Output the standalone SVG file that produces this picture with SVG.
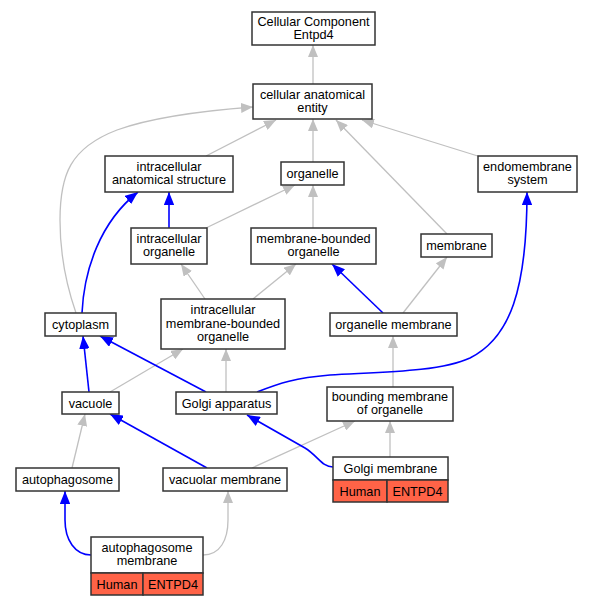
<svg xmlns="http://www.w3.org/2000/svg" width="593" height="605" viewBox="0 0 593 605">
<defs>
<style>
.n rect{fill:#fff;stroke:#333;stroke-width:1.5}
.n rect.h{fill:#ff6347}
text{font-family:"Liberation Sans",Arial,sans-serif;font-size:12.7px;fill:#000;text-anchor:middle}
.g{fill:none;stroke:#c0c0c0;stroke-width:1.3;marker-end:url(#ag)}
.b{fill:none;stroke:#0000ff;stroke-width:1.6;marker-end:url(#ab)}
</style>
<marker id="ag" markerUnits="userSpaceOnUse" markerWidth="12" markerHeight="10" refX="12" refY="5" orient="auto" viewBox="0 0 12 10"><polygon points="0,0 12,5 0,10" fill="#c0c0c0"/></marker>
<marker id="ab" markerUnits="userSpaceOnUse" markerWidth="13" markerHeight="10.5" refX="13" refY="5.25" orient="auto" viewBox="0 0 13 10.5"><polygon points="0,0 13,5.25 0,10.5" fill="#0000ff"/></marker>
</defs>
<rect width="593" height="605" fill="#fff"/>
<g id="edges">
<path class="g" d="M313,84 L313,45"/>
<path class="g" d="M206,156 L276,120"/>
<path class="g" d="M313,162 L313,119"/>
<path class="g" d="M481,157 L362,120"/>
<path class="g" d="M447,234 L336,120"/>
<path class="g" d="M76,313 C68,290 60,260 60,220 C60,175 70,148 117,130 C150,118 200,111 253,107"/>
<path class="g" d="M206,228 L295,185"/>
<path class="g" d="M313,228 L313,185"/>
<path class="g" d="M403,313 L447,257"/>
<path class="g" d="M205,299 L181,264"/>
<path class="g" d="M253,299 L296,264"/>
<path class="g" d="M393,387 L393,336"/>
<path class="g" d="M110,392 L183,349"/>
<path class="g" d="M226,392 L226,349"/>
<path class="g" d="M390,457 L390,421"/>
<path class="g" d="M252,468 L355,421"/>
<path class="g" d="M72,468 L85,414"/>
<path class="g" d="M203,555 C220,555 228,540 228,520 L228,491"/>
<path class="b" d="M169,228 L169,192"/>
<path class="b" d="M82,313 C84,270 100,222 138,192"/>
<path class="b" d="M383,313 L332,264"/>
<path class="b" d="M89,392 L83,336"/>
<path class="b" d="M206,392 L100,336"/>
<path class="b" d="M257,392 C280,383 295,378 330,375 C380,372 440,372 470,358 C510,338 527,290 527,192"/>
<path class="b" d="M333,467 C322,467 318,456 305,448 L247,415"/>
<path class="b" d="M207,468 L110,414"/>
<path class="b" d="M91,555 C75,555 65,540 65,520 L65,491"/>
</g>
<g id="cc" class="n"><rect x="252" y="12" width="123" height="33"/><text x="313.5" y="26">Cellular Component</text><text x="313.5" y="39">Entpd4</text></g>
<g id="cae" class="n"><rect x="253" y="84" width="119" height="35"/><text x="312.5" y="98.5">cellular anatomical</text><text x="312.5" y="111.5">entity</text></g>
<g id="ias" class="n"><rect x="105" y="156" width="128" height="36"/><text x="169" y="170.5">intracellular</text><text x="169" y="184">anatomical structure</text></g>
<g id="organelle" class="n"><rect x="281" y="162" width="63" height="23"/><text x="312.5" y="178">organelle</text></g>
<g id="ems" class="n"><rect x="478" y="156" width="99" height="36"/><text x="527.5" y="170.5">endomembrane</text><text x="527.5" y="184">system</text></g>
<g id="io" class="n"><rect x="131" y="228" width="76" height="36"/><text x="169" y="242.5">intracellular</text><text x="169" y="256">organelle</text></g>
<g id="mbo" class="n"><rect x="251" y="228" width="125" height="36"/><text x="313.5" y="242.5">membrane-bounded</text><text x="313.5" y="256">organelle</text></g>
<g id="membrane" class="n"><rect x="421" y="234" width="71" height="23"/><text x="456.5" y="250">membrane</text></g>
<g id="om" class="n"><rect x="330" y="313" width="127" height="23"/><text x="393.5" y="329">organelle membrane</text></g>
<g id="imbo" class="n"><rect x="161" y="299" width="124" height="50"/><text x="223" y="314.3">intracellular</text><text x="223" y="327.6">membrane-bounded</text><text x="223" y="340.9">organelle</text></g>
<g id="cytoplasm" class="n"><rect x="45" y="313" width="71" height="23"/><text x="80.5" y="329">cytoplasm</text></g>
<g id="vacuole" class="n"><rect x="62" y="392" width="57" height="22"/><text x="90.5" y="407.5">vacuole</text></g>
<g id="golgi" class="n"><rect x="176" y="392" width="101" height="22"/><text x="226.5" y="407.5">Golgi apparatus</text></g>
<g id="bmo" class="n"><rect x="327" y="387" width="126" height="34"/><text x="390" y="401">bounding membrane</text><text x="390" y="414">of organelle</text></g>
<g id="autophagosome" class="n"><rect x="16" y="468" width="103" height="23"/><text x="67.5" y="484">autophagosome</text></g>
<g id="vm" class="n"><rect x="163" y="468" width="124" height="23"/><text x="225" y="484">vacuolar membrane</text></g>
<g id="gm" class="n"><rect x="333" y="457" width="115" height="23"/><rect class="h" x="333" y="480" width="54" height="22"/><rect class="h" x="387" y="480" width="61" height="22"/><text x="390.5" y="473">Golgi membrane</text><text x="360" y="495.5">Human</text><text x="417.5" y="495.5">ENTPD4</text></g>
<g id="am" class="n"><rect x="91" y="537" width="112" height="36"/><rect class="h" x="91" y="573" width="52" height="22"/><rect class="h" x="143" y="573" width="60" height="22"/><text x="147" y="551.5">autophagosome</text><text x="147" y="564.5">membrane</text><text x="117" y="588.5">Human</text><text x="173" y="588.5">ENTPD4</text></g>
</svg>
